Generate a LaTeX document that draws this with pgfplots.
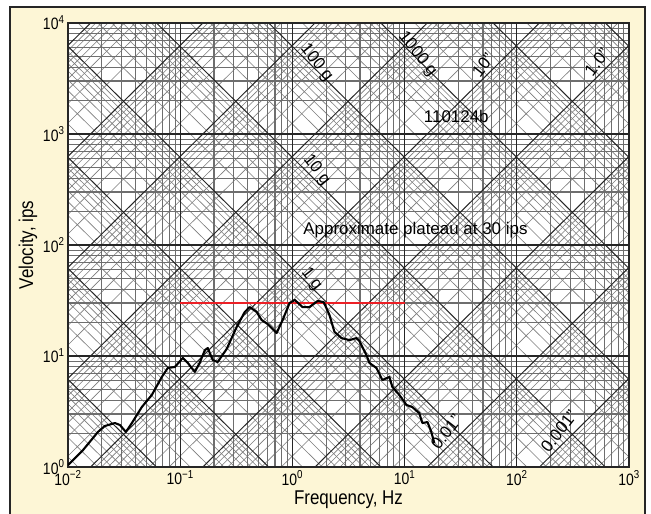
\documentclass[border=0pt]{standalone}
\usepackage{fontspec}
\setmainfont{Liberation Sans}
\newfontfamily\condensed{Liberation Sans}[FakeStretch=0.85]
\usepackage{pgfplots}
\pgfplotsset{compat=1.18}

\definecolor{cream}{HTML}{FDF6D6}
\definecolor{gridminor}{HTML}{6E6E6E}
\definecolor{diagminor}{HTML}{7C7C7C}
\definecolor{gridmajor}{HTML}{262626}
\definecolor{plateau}{HTML}{EC2026}

% shock response spectrum, pseudo-velocity vs frequency
\pgfplotstableread{
f v
0.0100 1.04
0.0136 1.42
0.0185 2.07
0.0213 2.34
0.0262 2.49
0.0290 2.39
0.0328 2.07
0.0371 2.49
0.0455 3.47
0.0558 4.45
0.0686 6.47
0.0776 7.80
0.0895 7.96
0.1055 9.59
0.117 8.65
0.135 7.18
0.149 8.65
0.166 11.3
0.176 11.8
0.195 9.20
0.216 8.83
0.260 11.6
0.319 18.3
0.376 24.9
0.416 27.6
0.481 24.9
0.532 21.1
0.602 19.4
0.723 16.1
0.818 21.1
0.944 30.0
1.05 32.0
1.23 27.6
1.42 27.6
1.68 31.3
1.90 30.6
2.14 23.4
2.37 16.5
2.74 14.5
3.23 13.9
3.72 14.5
3.96 13.6
4.57 10.2
4.86 8.65
5.61 7.80
6.34 6.08
7.32 6.47
7.78 5.26
8.99 4.45
10.4 3.62
11.7 3.47
13.5 3.06
14.4 2.49
16.0 2.54
17.3 2.07
18.4 1.64
}\srsdata

\begin{document}
\begin{tikzpicture}[x=1bp,y=1bp]
\useasboundingbox (0,0) rectangle (651,514);
\fill[white] (0,0) rectangle (651,514);
\draw[fill=cream, draw=black!85, line width=1.2bp] (10,-5) rectangle (645,507);
\fill[white] (68,47) rectangle (629,491);

% four-coordinate paper, drawn in decades: x = log10 f, y = log10 v
\begin{axis}[
  at={(68bp,47bp)}, anchor=south west,
  width=561bp, height=444bp, scale only axis,
  xmin=-2, xmax=3, ymin=0, ymax=4,
  hide axis, clip=true,
]
% displacement lines (v = 2 pi f d), minor
\foreach \d in {-5,...,5}{\foreach \k in {2,...,9}{
  \pgfmathsetmacro\c{\d+0.79818+log10(\k)}
  \pgfmathsetmacro\ya{\c-2}\pgfmathsetmacro\yb{\c+3}
  \edef\tmp{\noexpand\draw[diagminor, line width=0.6bp] (axis cs:-2,\ya) -- (axis cs:3,\yb);}\tmp
}}
% acceleration lines (v = a / 2 pi f, a in g), minor
\foreach \a in {-5,...,5}{\foreach \k in {2,...,9}{
  \pgfmathsetmacro\c{\a+1.78854+log10(\k)}
  \pgfmathsetmacro\ya{\c+2}\pgfmathsetmacro\yb{\c-3}
  \edef\tmp{\noexpand\draw[diagminor, line width=0.6bp] (axis cs:-2,\ya) -- (axis cs:3,\yb);}\tmp
}}
% frequency and velocity lines, minor
\foreach \n in {-2,...,2}{\foreach \k in {2,...,9}{
  \pgfmathsetmacro\xx{\n+log10(\k)}
  \edef\tmp{\noexpand\draw[gridminor, line width=1.1bp] (axis cs:\xx,0) -- (axis cs:\xx,4);}\tmp
}}
\foreach \n in {0,...,3}{\foreach \k in {2,...,9}{
  \pgfmathsetmacro\yy{\n+log10(\k)}
  \edef\tmp{\noexpand\draw[gridminor, line width=1.1bp] (axis cs:-2,\yy) -- (axis cs:3,\yy);}\tmp
}}
% decade lines
\foreach \d in {-5,...,5}{
  \pgfmathsetmacro\c{\d+0.79818}
  \pgfmathsetmacro\ya{\c-2}\pgfmathsetmacro\yb{\c+3}
  \edef\tmp{\noexpand\draw[gridmajor, line width=1bp] (axis cs:-2,\ya) -- (axis cs:3,\yb);}\tmp
  \pgfmathsetmacro\c{\d+1.78854}
  \pgfmathsetmacro\ya{\c+2}\pgfmathsetmacro\yb{\c-3}
  \edef\tmp{\noexpand\draw[gridmajor, line width=1bp] (axis cs:-2,\ya) -- (axis cs:3,\yb);}\tmp
}
\foreach \n in {-1,...,2}{
  \edef\tmp{\noexpand\draw[gridmajor, line width=1.1bp] (axis cs:\n,0) -- (axis cs:\n,4);}\tmp
}
\foreach \n in {1,...,3}{
  \edef\tmp{\noexpand\draw[gridmajor, line width=1.1bp] (axis cs:-2,\n) -- (axis cs:3,\n);}\tmp
}
\end{axis}

\begin{axis}[
  at={(68bp,47bp)}, anchor=south west,
  width=561bp, height=444bp, scale only axis,
  xmode=log, ymode=log,
  xmin=1e-2, xmax=1e3, ymin=1, ymax=1e4,
  xtick={1e-2,1e-1,1,1e1,1e2,1e3},
  xticklabels={10\textsuperscript{−2},10\textsuperscript{−1},10\textsuperscript{0},10\textsuperscript{1},10\textsuperscript{2},10\textsuperscript{3}},
  ytick={1,10,100,1000,10000},
  yticklabels={10\textsuperscript{0},10\textsuperscript{1},10\textsuperscript{2},10\textsuperscript{3},10\textsuperscript{4}},
  minor xtick={}, minor ytick={},
  major tick length=0pt, minor tick length=0pt,
  axis line style={draw=gridmajor, line width=1.2bp},
  ticklabel style={font=\condensed\fontsize{16.5}{18}\selectfont},
  xticklabel style={anchor=center, yshift=-11bp},
  yticklabel style={anchor=east, xshift=0bp},
  xlabel={Frequency, Hz}, ylabel={Velocity, ips},
  label style={font=\condensed\fontsize{20}{22}\selectfont},
  xlabel style={at={(axis description cs:0.5,-0.0745)}, anchor=center},
  ylabel style={at={(axis description cs:-0.0713,0.5)}, anchor=center},
]
\addplot[plateau, line width=1.9bp] coordinates {(0.1,30) (10,30)};
\addplot[black, line width=2.1bp, line join=round] table[x=f, y=v] {\srsdata};

\begin{scope}[font=\fontsize{17}{19}\selectfont]
\node[rotate=-52] at (axis cs:1.64,4360) {100 g};
\node[rotate=-52] at (axis cs:13.0,5250) {1000 g};
\node[rotate=-52] at (axis cs:1.64,474) {10 g};
\node[rotate=-52] at (axis cs:1.48,49) {1 g};
\node[rotate=52] at (axis cs:50,4190) {10"};
\node[rotate=52] at (axis cs:519,4450) {1.0"};
\node[rotate=52] at (axis cs:23.5,2.07) {0.01"};
\node[rotate=52] at (axis cs:238,2.11) {0.001"};
\node at (axis cs:28.9,1452) {110124b};
\node at (axis cs:12.5,136) {Approximate plateau at 30 ips};
\end{scope}
\end{axis}
\end{tikzpicture}
\end{document}
